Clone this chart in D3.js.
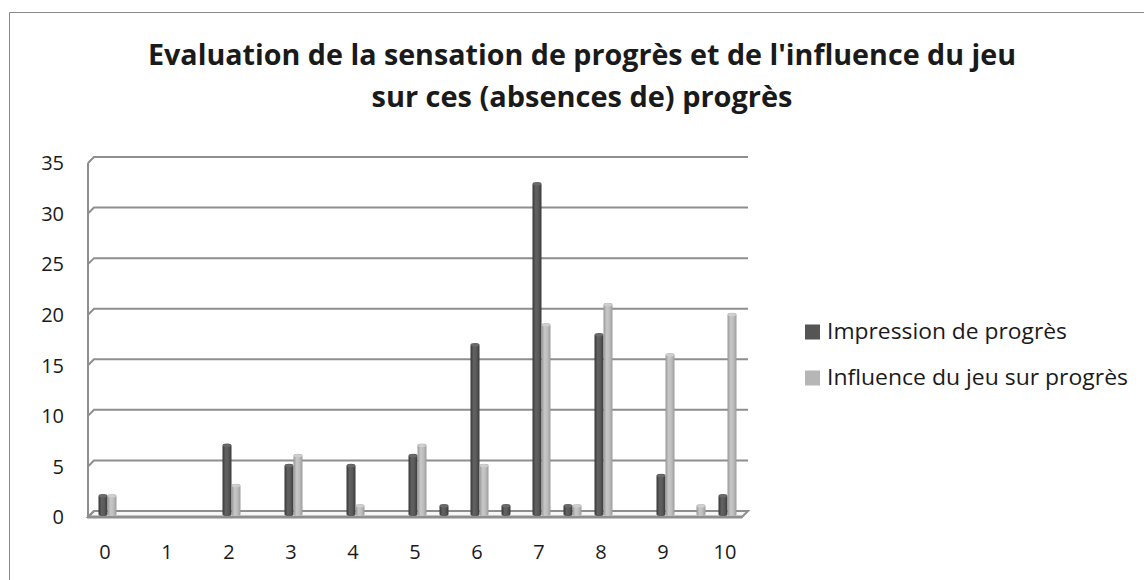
<!DOCTYPE html>
<html>
<head>
<meta charset="utf-8">
<script src="https://cdn.jsdelivr.net/npm/d3@7"></script>
<style>
  body { margin: 0; background: #fff; }
  text { font-family: "Open Sans", "DejaVu Sans", sans-serif; fill: #1a1a1a; }
</style>
</head>
<body>
<div id="chart"></div>
<script>
// categories: 21 slots (every half point), only integers get a label
const categories = ["0", "0.5", "1", "1.5", "2", "2.5", "3", "3.5", "4", "4.5", "5",
  "5.5", "6", "6.5", "7", "7.5", "8", "8.5", "9", "9.5", "10"];
const tickLabels = ["0", "1", "2", "3", "4", "5", "6", "7", "8", "9", "10"];
const yTicks = [0, 5, 10, 15, 20, 25, 30, 35];

const seriesNames = ["Impression de progrès", "Influence du jeu sur progrès"];
const impression = [2, 0, 0, 0, 7, 0, 5, 0, 5, 0, 6, 1, 17, 1, 33, 1, 18, 0, 4, 0, 2];
const influence = [2, 0, 0, 0, 3, 0, 6, 0, 1, 0, 7, 0, 5, 0, 19, 1, 21, 0, 16, 1, 20];

const titleLines = [
  "Evaluation de la sensation de progrès et de l'influence du jeu",
  "sur ces (absences de) progrès"
];

const dimensions = {
  width: 1144,
  height: 580,
  left: 88,
  right: 739,
  depthX: 6,
  depthY: -6,
  top: 163,
  bottom: 517,
};

const colors = { dark: "#555555", light: "#b6b6b6", grid: "#8e8e8e" };

const svg = d3.select("#chart")
  .append("svg")
  .attr("width", dimensions.width)
  .attr("height", dimensions.height);

// chart border (only top and left are visible)
svg.append("path")
  .attr("d", "M9.5,580 L9.5,12.5 L1144,12.5")
  .attr("fill", "none")
  .attr("stroke", "#8a8a8a")
  .attr("stroke-width", 1);

// title
svg.append("g")
  .selectAll("text")
  .data(titleLines)
  .join("text")
  .attr("x", 582)
  .attr("y", (d, i) => 65 + i * 42)
  .attr("text-anchor", "middle")
  .attr("font-size", 29)
  .attr("font-weight", "bold")
  .attr("textLength", (d, i) => (i === 0 ? 868 : 421))
  .attr("lengthAdjust", "spacingAndGlyphs")
  .text((d) => d);

const xScale = d3.scaleBand()
  .domain(categories)
  .range([dimensions.left, dimensions.right])
  .padding(0);

const yFront = d3.scaleLinear().domain([0, 35]).range([dimensions.bottom, dimensions.top]);
const yBack = d3.scaleLinear().domain([0, 35])
  .range([dimensions.bottom + dimensions.depthY, dimensions.top + dimensions.depthY]);
const yBar = d3.scaleLinear().domain([0, 35]).range([514, 162]);

const xSeries = d3.scaleBand().domain(seriesNames).range([0, 18]);

// floor
const backRight = dimensions.right + 3 + dimensions.depthX;
svg.append("path")
  .attr("d", `M${dimensions.left},${yFront(0)} L${dimensions.right + 3},${yFront(0)}
    L${backRight},${yBack(0)} L${dimensions.left + dimensions.depthX},${yBack(0)} Z`)
  .attr("fill", "#f7f7f7")
  .attr("stroke", colors.grid)
  .attr("stroke-width", 2);

// gridlines on the back wall, with the little step along the side wall
svg.append("g")
  .selectAll("path")
  .data(yTicks)
  .join("path")
  .attr("d", (d) => `M${dimensions.left},${yFront(d)} L${dimensions.left + dimensions.depthX},${yBack(d)} L${backRight},${yBack(d)}`)
  .attr("fill", "none")
  .attr("stroke", colors.grid)
  .attr("stroke-width", 2);

// side wall edge
svg.append("line")
  .attr("x1", dimensions.left)
  .attr("x2", dimensions.left)
  .attr("y1", yFront(35))
  .attr("y2", yFront(0))
  .attr("stroke", colors.grid)
  .attr("stroke-width", 2);

// front floor edge
svg.append("line")
  .attr("x1", dimensions.left - 1)
  .attr("x2", dimensions.right + 3)
  .attr("y1", yFront(0))
  .attr("y2", yFront(0))
  .attr("stroke", colors.grid)
  .attr("stroke-width", 3);

// gradients for a cylinder look
const defs = svg.append("defs");
const gradients = [
  { id: "g-dark", stops: ["#363636", "#626262", "#5a5a5a", "#3a3a3a"] },
  { id: "g-light", stops: ["#979797", "#c8c8c8", "#bdbdbd", "#9c9c9c"] },
];
gradients.forEach((g) => {
  const lg = defs.append("linearGradient").attr("id", g.id)
    .attr("x1", "0%").attr("x2", "100%").attr("y1", "0%").attr("y2", "0%");
  lg.selectAll("stop")
    .data(g.stops)
    .join("stop")
    .attr("offset", (d, i) => `${[0, 35, 65, 100][i]}%`)
    .attr("stop-color", (d) => d);
});

const bars = [];
categories.forEach((c, i) => {
  bars.push({ cat: c, series: seriesNames[0], value: impression[i], fill: "url(#g-dark)", top: "#6a6a6a" });
  bars.push({ cat: c, series: seriesNames[1], value: influence[i], fill: "url(#g-light)", top: "#cfcfcf" });
});

const barWidth = xSeries.bandwidth();
const barX = (d) => xScale(d.cat) + xScale.bandwidth() / 2 - 5 + xSeries(d.series);

const barGroup = svg.append("g")
  .selectAll("g")
  .data(bars.filter((d) => d.value > 0))
  .join("g");

barGroup.append("path")
  .attr("d", (d) => {
    const x = barX(d);
    const yT = yBar(d.value);
    const yB = yBar(0);
    const r = barWidth / 2;
    return `M${x},${yB} L${x},${yT + 2} A${r},2 0 0 1 ${x + barWidth},${yT + 2} L${x + barWidth},${yB} A${r},2 0 0 1 ${x},${yB} Z`;
  })
  .attr("fill", (d) => d.fill);

barGroup.append("ellipse")
  .attr("cx", (d) => barX(d) + barWidth / 2)
  .attr("cy", (d) => yBar(d.value) + 2)
  .attr("rx", barWidth / 2 - 0.5)
  .attr("ry", 1.5)
  .attr("fill", (d) => d.top);

// y axis labels
const yAxis = svg.append("g")
  .attr("transform", "translate(64,0)")
  .call(d3.axisLeft(yFront).tickValues(yTicks).tickSize(0).tickPadding(0));
yAxis.select(".domain").remove();
yAxis.selectAll("text")
  .attr("font-size", 20)
  .attr("font-family", "\"Open Sans\", sans-serif")
  .attr("fill", "#1a1a1a")
  .attr("dy", "0.34em");

// x axis labels, one every two slots
const xAxis = svg.append("g")
  .attr("transform", "translate(1.5,545)")
  .call(d3.axisBottom(xScale)
    .tickValues(categories.filter((c) => tickLabels.includes(c)))
    .tickSize(0)
    .tickPadding(0));
xAxis.select(".domain").remove();
xAxis.selectAll("text")
  .attr("font-size", 20)
  .attr("font-family", "\"Open Sans\", sans-serif")
  .attr("fill", "#1a1a1a");

// legend
const legend = svg.append("g")
  .selectAll("g")
  .data(seriesNames)
  .join("g")
  .attr("transform", (d, i) => `translate(805,${332 + i * 46})`);

legend.append("rect")
  .attr("x", 0)
  .attr("y", -7.5)
  .attr("width", 15)
  .attr("height", 15)
  .attr("fill", (d, i) => (i === 0 ? colors.dark : colors.light));

legend.append("text")
  .attr("x", 22)
  .attr("y", 7)
  .attr("font-size", 21)
  .attr("textLength", (d, i) => (i === 0 ? 240 : 301))
  .attr("lengthAdjust", "spacingAndGlyphs")
  .text((d) => d);
</script>
</body>
</html>
